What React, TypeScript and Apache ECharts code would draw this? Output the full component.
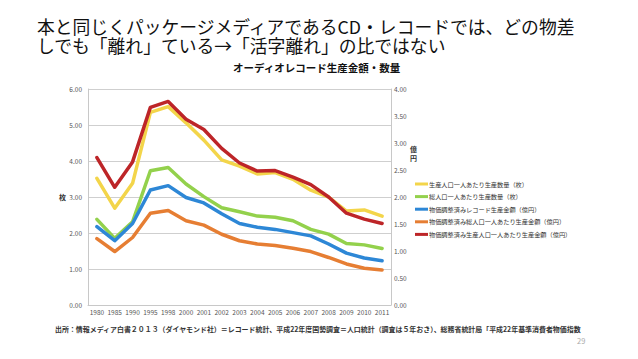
import React, { useEffect, useRef } from "react";
import * as echarts from "echarts";

const years = ["1980","1985","1990","1995","1998","2000","2001","2002","2003","2004","2005","2006","2007","2008","2009","2010","2011"];
// 枚 (left axis)
const perWorkingPopQty = [3.52,2.69,3.38,5.35,5.51,5.06,4.58,4.03,3.86,3.64,3.68,3.49,3.19,3.0,2.61,2.64,2.47];
const perTotalPopQty = [2.38,1.85,2.31,3.73,3.82,3.36,3.01,2.70,2.59,2.47,2.44,2.34,2.10,1.97,1.71,1.67,1.57];
// 億円 (right axis)
const adjRecordValue = [1.45,1.19,1.51,2.13,2.21,1.99,1.89,1.69,1.51,1.44,1.40,1.34,1.28,1.13,0.96,0.87,0.82];
const adjPerTotalPopValue = [1.23,0.99,1.25,1.70,1.75,1.56,1.48,1.31,1.19,1.13,1.10,1.05,0.99,0.88,0.76,0.68,0.65];
const adjPerWorkingPopValue = [2.73,2.18,2.65,3.66,3.77,3.44,3.25,2.90,2.63,2.48,2.49,2.37,2.23,2.0,1.70,1.59,1.51];

const seriesNames = [
  "生産人口一人あたり生産数量（枚）",
  "総人口一人あたり生産数量（枚）",
  "物価調整済みレコード生産金額（億円）",
  "物価調整済み総人口一人あたり生産金額（億円）",
  "物価調整済み生産人口一人あたり生産金額（億円）",
];
const colors = ["#F3D54A", "#93D14C", "#2D87D6", "#E67E33", "#BD2528"];

const FONT = '"Noto Sans CJK JP", "Noto Sans", sans-serif';

export default function App() {
  const ref = useRef<HTMLDivElement>(null);
  useEffect(() => {
    const chart = echarts.init(ref.current!, null, { renderer: "svg" });
    const datasets = [perWorkingPopQty, perTotalPopQty, adjRecordValue, adjPerTotalPopValue, adjPerWorkingPopValue];
    const axisIdx = [0, 0, 1, 1, 1];
    chart.setOption({
      animation: false,
      backgroundColor: "#ffffff",
      textStyle: { fontFamily: FONT },
      title: [
        {
          text: "本と同じくパッケージメディアであるCD・レコードでは、どの物差\nしでも「離れ」ている→「活字離れ」の比ではない",
          left: 37,
          top: 16,
          padding: 0,
          textStyle: { fontSize: 17.8, lineHeight: 19.5, fontWeight: "normal", color: "#111", fontFamily: FONT },
        },
        {
          text: "オーディオレコード生産金額・数量",
          left: 233,
          top: 62,
          padding: 0,
          textStyle: { fontSize: 10.5, fontWeight: "bold", color: "#111", fontFamily: FONT },
        },
        {
          text: "出所：情報メディア白書２０１３（ダイヤモンド社）＝レコード統計、平成22年度国勢調査＝人口統計（調査は５年おき）、総務省統計局「平成22年基準消費者物価指数",
          left: 55,
          top: 326,
          padding: 0,
          textStyle: { fontSize: 6.95, fontWeight: "bold", color: "#333", fontFamily: FONT },
        },
        {
          text: "29",
          left: 577,
          top: 337,
          padding: 0,
          textStyle: { fontSize: 7.5, fontWeight: "normal", color: "#aaa", fontFamily: FONT },
        },
        {
          text: "枚",
          left: 59,
          top: 193,
          padding: 0,
          textStyle: { fontSize: 7, fontWeight: "bold", color: "#333", fontFamily: FONT },
        },
        {
          text: "億\n円",
          left: 410,
          top: 144,
          padding: 0,
          textStyle: { fontSize: 7, lineHeight: 9, fontWeight: "bold", color: "#333", fontFamily: FONT },
        },
      ],
      legend: {
        orient: "vertical",
        left: 415,
        top: 180,
        padding: 0,
        itemWidth: 13,
        itemHeight: 3,
        itemGap: 4.6,
        icon: "rect",
        data: seriesNames,
        textStyle: { fontSize: 6.2, lineHeight: 8, color: "#333", padding: [0, 0, 0, -4], fontFamily: FONT },
      },
      grid: { left: 88, right: 247, top: 89, bottom: 54, containLabel: false },
      xAxis: {
        type: "category",
        data: years,
        boundaryGap: true,
        axisLine: { show: true, lineStyle: { color: "#c8c8c8" } },
        axisTick: { show: false },
        axisLabel: { fontSize: 6.5, color: "#555", margin: 4, interval: 0 },
      },
      yAxis: [
        {
          type: "value",
          min: 0,
          max: 6,
          interval: 1,
          axisLine: { show: true, lineStyle: { color: "#c8c8c8" } },
          axisTick: { show: false },
          splitLine: { show: true, lineStyle: { color: "#cfcfcf", width: 1 } },
          axisLabel: { fontSize: 6.5, color: "#555", margin: 6, formatter: (v: number) => v.toFixed(2) },
        },
        {
          type: "value",
          min: 0,
          max: 4,
          interval: 0.5,
          position: "right",
          axisLine: { show: true, lineStyle: { color: "#c8c8c8" } },
          axisTick: { show: false },
          splitLine: { show: false },
          axisLabel: { fontSize: 6.5, color: "#555", margin: 3, formatter: (v: number) => v.toFixed(2) },
        },
      ],
      series: seriesNames.map((name, i) => ({
        name,
        type: "line",
        yAxisIndex: axisIdx[i],
        data: datasets[i],
        symbol: "none",
        smooth: false,
        color: colors[i],
        lineStyle: { width: 3.5, color: colors[i], cap: "round", join: "round" },
        z: 2 + i,
      })),
    });
    return () => chart.dispose();
  }, []);
  return <div ref={ref} style={{ position: "fixed", left: 0, top: 0, width: 638, height: 359 }} />;
}
